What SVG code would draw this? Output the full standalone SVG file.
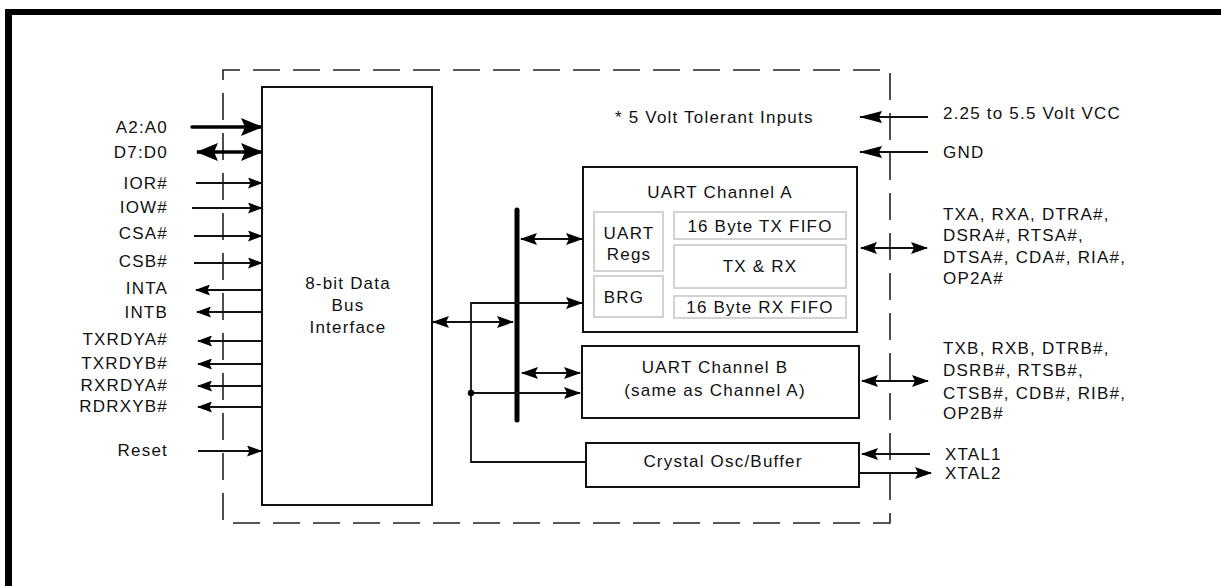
<svg xmlns="http://www.w3.org/2000/svg" width="1221" height="586" viewBox="0 0 1221 586">
<style>
text{font-family:"Liberation Sans",Arial,sans-serif;font-size:17px;letter-spacing:1.2px;fill:#111}
.m{text-anchor:middle}
.e{text-anchor:end}
.box{fill:#fff;stroke:#111;stroke-width:2}
.gbox{fill:#fff;stroke:#c4c4c4;stroke-width:1.5}
.ln{fill:none;stroke:#111;stroke-width:1.8}
.thick{fill:none;stroke:#000;stroke-width:3.5}
.dash{fill:none;stroke:#222;stroke-width:1.6;stroke-dasharray:27 13}
</style>
<defs>
<marker id="a" markerUnits="userSpaceOnUse" viewBox="0 0 17 12" refX="16" refY="6" markerWidth="17" markerHeight="12" orient="auto-start-reverse"><path d="M0,0 L17,6 L0,12 L3,6 Z" fill="#000"/></marker>
<marker id="t" markerUnits="userSpaceOnUse" viewBox="0 0 15 11" refX="14" refY="5.5" markerWidth="15" markerHeight="11" orient="auto-start-reverse"><path d="M0,0 L15,5.5 L0,11 L2.5,5.5 Z" fill="#000"/></marker>
<marker id="v" markerUnits="userSpaceOnUse" viewBox="0 0 23 12" refX="22" refY="6" markerWidth="23" markerHeight="12" orient="auto-start-reverse"><path d="M0,0 L23,6 L0,12 L3,6 Z" fill="#000"/></marker>
<marker id="b" markerUnits="userSpaceOnUse" viewBox="0 0 22 18" refX="21" refY="9" markerWidth="22" markerHeight="18" orient="auto-start-reverse"><path d="M0,0 L22,9 L0,18 L4,9 Z" fill="#000"/></marker>
</defs>

<g id="frame">
<line x1="5" y1="12" x2="1221" y2="12" stroke="#000" stroke-width="6"/>
<line x1="8.5" y1="9" x2="8.5" y2="586" stroke="#000" stroke-width="7"/>
<rect class="dash" x="223" y="70" width="667" height="453" stroke-dashoffset="10"/>
</g>

<g id="connectors">
<!-- left pins -->
<line class="thick" x1="192" y1="127" x2="262" y2="127" stroke-linecap="round" marker-end="url(#b)"/>
<line class="thick" x1="197" y1="152" x2="262" y2="152" marker-start="url(#b)" marker-end="url(#b)"/>
<line class="ln" x1="196" y1="183" x2="262" y2="183" marker-end="url(#t)"/>
<line class="ln" x1="192" y1="208" x2="262" y2="208" marker-end="url(#t)"/>
<line class="ln" x1="194" y1="236" x2="262" y2="236" marker-end="url(#t)"/>
<line class="ln" x1="194" y1="263" x2="262" y2="263" marker-end="url(#t)"/>
<line class="ln" x1="262" y1="290" x2="196" y2="290" marker-end="url(#t)"/>
<line class="ln" x1="262" y1="312" x2="197" y2="312" marker-end="url(#t)"/>
<line class="ln" x1="262" y1="341" x2="198" y2="341" marker-end="url(#t)"/>
<line class="ln" x1="262" y1="364" x2="198" y2="364" marker-end="url(#t)"/>
<line class="ln" x1="262" y1="386" x2="198" y2="386" marker-end="url(#t)"/>
<line class="ln" x1="262" y1="407" x2="198" y2="407" marker-end="url(#t)"/>
<line class="ln" x1="198" y1="451" x2="261" y2="451" marker-end="url(#t)"/>
<!-- internal bus -->
<line x1="517" y1="210" x2="517" y2="420" stroke="#000" stroke-width="5" stroke-linecap="round"/>
<line class="ln" x1="433" y1="322" x2="513" y2="322" marker-start="url(#a)" marker-end="url(#a)"/>
<line class="ln" x1="521" y1="239" x2="582" y2="239" marker-start="url(#a)" marker-end="url(#a)"/>
<line class="ln" x1="522" y1="373" x2="580" y2="373" marker-start="url(#a)" marker-end="url(#a)"/>
<polyline class="ln" points="582,303 471,303 471,462 586,462" marker-start="url(#a)"/>
<line class="ln" x1="471" y1="393" x2="580" y2="393" marker-end="url(#a)"/>
<circle cx="471" cy="393" r="3.2" fill="#000"/>
<!-- right side -->
<line class="ln" x1="928" y1="117" x2="860" y2="117" marker-end="url(#v)"/>
<line class="ln" x1="928" y1="152" x2="860" y2="152" marker-end="url(#v)"/>
<line class="ln" x1="861" y1="248" x2="927" y2="248" marker-start="url(#a)" marker-end="url(#a)"/>
<line class="ln" x1="862" y1="381" x2="928" y2="381" marker-start="url(#a)" marker-end="url(#a)"/>
<line class="ln" x1="930" y1="454" x2="862" y2="454" marker-end="url(#a)"/>
<line class="ln" x1="859" y1="473" x2="931" y2="473" marker-end="url(#a)"/>
</g>

<g id="bus-interface">
<rect class="box" x="262" y="87" width="170" height="418"/>
<text class="m" x="348" y="289">8-bit Data</text>
<text class="m" x="348" y="311">Bus</text>
<text class="m" x="348" y="333">Interface</text>
</g>

<g id="pin-labels">
<text class="e" x="168" y="133">A2:A0</text>
<text class="e" x="168" y="158">D7:D0</text>
<text class="e" x="168" y="189">IOR#</text>
<text class="e" x="168" y="213">IOW#</text>
<text class="e" x="168" y="239">CSA#</text>
<text class="e" x="168" y="267">CSB#</text>
<text class="e" x="168" y="294">INTA</text>
<text class="e" x="168" y="318">INTB</text>
<text class="e" x="168" y="345">TXRDYA#</text>
<text class="e" x="168" y="369">TXRDYB#</text>
<text class="e" x="168" y="391">RXRDYA#</text>
<text class="e" x="168" y="412">RDRXYB#</text>
<text class="e" x="168" y="456">Reset</text>
</g>

<g id="note">
<text x="615" y="123">* 5 Volt Tolerant Inputs</text>
</g>

<g id="uart-a">
<rect class="box" x="583" y="167" width="274" height="165"/>
<text class="m" x="720" y="198">UART Channel A</text>
<rect class="gbox" x="594" y="212" width="69" height="59"/>
<text class="m" x="629" y="239">UART</text>
<text class="m" x="629" y="260">Regs</text>
<rect class="gbox" x="594" y="276" width="69" height="41"/>
<text class="m" x="624" y="303">BRG</text>
<rect class="gbox" x="674" y="212" width="172" height="27"/>
<text class="m" x="760" y="232">16 Byte TX FIFO</text>
<rect class="gbox" x="674" y="245" width="172" height="43"/>
<text class="m" x="760" y="272">TX &amp; RX</text>
<rect class="gbox" x="674" y="296" width="172" height="22"/>
<text class="m" x="760" y="313">16 Byte RX FIFO</text>
</g>

<g id="uart-b">
<rect class="box" x="582" y="346" width="277" height="72"/>
<text class="m" x="715" y="373">UART Channel B</text>
<text class="m" x="715" y="396">(same as Channel A)</text>
</g>

<g id="crystal">
<rect class="box" x="586" y="443" width="273" height="44"/>
<text class="m" x="723" y="467">Crystal Osc/Buffer</text>
</g>

<g id="right-labels">
<text x="943" y="119">2.25 to 5.5 Volt VCC</text>
<text x="943" y="158">GND</text>
<text x="943" y="220">TXA, RXA, DTRA#,</text>
<text x="943" y="241">DSRA#, RTSA#,</text>
<text x="943" y="263">DTSA#, CDA#, RIA#,</text>
<text x="943" y="284">OP2A#</text>
<text x="943" y="354">TXB, RXB, DTRB#,</text>
<text x="943" y="376">DSRB#, RTSB#,</text>
<text x="943" y="399">CTSB#, CDB#, RIB#,</text>
<text x="943" y="419">OP2B#</text>
<text x="945" y="460">XTAL1</text>
<text x="945" y="479">XTAL2</text>
</g>
</svg>
